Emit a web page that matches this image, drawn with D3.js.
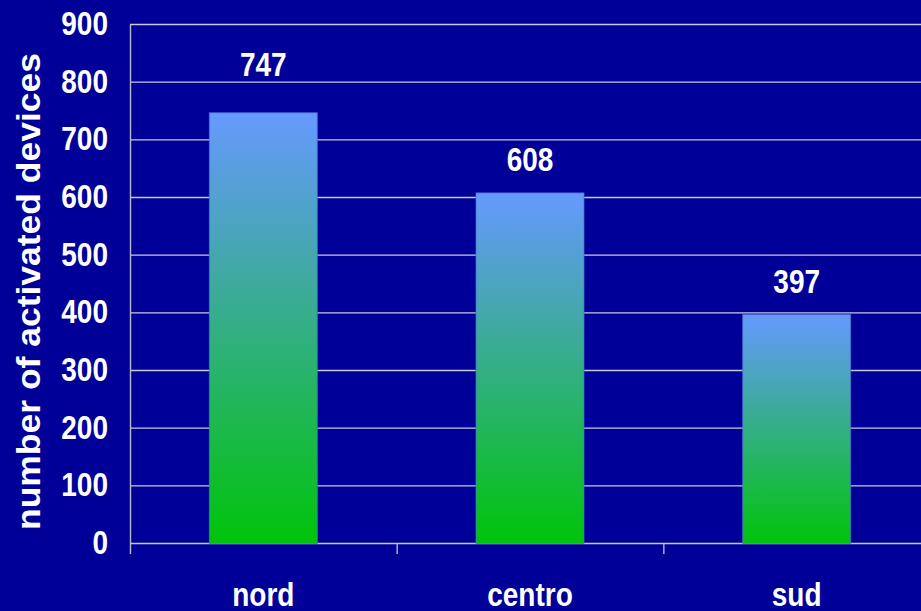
<!DOCTYPE html>
<html><head><meta charset="utf-8">
<script src="https://cdn.jsdelivr.net/npm/d3@7"></script>
<style>html,body{margin:0;padding:0;background:#000099;overflow:hidden}svg{display:block}</style>
</head><body>
<script>
const categories = ["nord", "centro", "sud"];
const values = [747, 608, 397];
const yTicks = [0, 100, 200, 300, 400, 500, 600, 700, 800, 900];
const yTitle = "number of activated devices";

const W = 921, H = 611;
const svg = d3.select("body").append("svg").attr("width", W).attr("height", H);
svg.append("rect").attr("width", W).attr("height", H).attr("fill", "#000099");

const x = d3.scaleBand().domain(categories).range([130, 930]).paddingInner(0).paddingOuter(0);
const y = d3.scaleLinear().domain([0, 900]).range([543.5, 24.5]);

const defs = svg.append("defs");
const grad = defs.append("linearGradient").attr("id", "barGrad")
  .attr("x1", 0).attr("y1", 0).attr("x2", 0).attr("y2", 1);
grad.append("stop").attr("offset", "0%").attr("stop-color", "#6699ff");
grad.append("stop").attr("offset", "100%").attr("stop-color", "#00c40a");

const font = "'Liberation Sans', Arial, sans-serif";
const SY = 1.17;

// gridlines
svg.append("g").selectAll("line").data(yTicks).join("line")
  .attr("x1", 130).attr("x2", W)
  .attr("y1", d => y(d)).attr("y2", d => y(d))
  .attr("stroke", "#c8c8d8").attr("stroke-width", 1.4);

// y axis line
svg.append("line").attr("x1", 130.5).attr("x2", 130.5).attr("y1", y(900)).attr("y2", 554)
  .attr("stroke", "#b8b8d0").attr("stroke-width", 1.4);

// x ticks at band boundaries
const bounds = categories.map(c => x(c)).slice(1);
svg.append("g").selectAll("line").data(bounds).join("line")
  .attr("x1", d => d + 0.5).attr("x2", d => d + 0.5).attr("y1", y(0)).attr("y2", 554)
  .attr("stroke", "#b8b8d0").attr("stroke-width", 1.4);

// bars
const bw = x.bandwidth() * 0.405;
svg.append("g").selectAll("rect").data(values).join("rect")
  .attr("x", (d, i) => x(categories[i]) + x.bandwidth() / 2 - bw / 2)
  .attr("y", d => y(d))
  .attr("width", bw)
  .attr("height", d => y(0) - y(d))
  .attr("fill", "url(#barGrad)")
  .attr("stroke", "#4a70d0").attr("stroke-width", 1).attr("stroke-opacity", 0.7);

function stretchedText(g, tx, ty, txt, anchor, size) {
  return g.append("text")
    .attr("transform", `translate(${tx},${ty}) scale(1,${SY})`)
    .attr("text-anchor", anchor)
    .attr("font-family", font).attr("font-weight", "bold")
    .attr("font-size", size).attr("fill", "#ffffff")
    .text(txt);
}

// y tick labels
const gy = svg.append("g");
yTicks.forEach(t => stretchedText(gy, 108, y(t) + 10.5, t, "end", 28));

// x labels
const gx = svg.append("g");
categories.forEach(c => stretchedText(gx, x(c) + x.bandwidth() / 2, 606, c, "middle", 28));

// value labels: placed above bar, moved above a gridline if they would cross it
const gv = svg.append("g");
values.forEach((v, i) => {
  let base = y(v) - 22;
  const top = base - 24;
  yTicks.forEach(t => { const gyv = y(t); if (gyv > top && gyv < base + 2) base = gyv - 6; });
  stretchedText(gv, x(categories[i]) + x.bandwidth() / 2, base, v, "middle", 28);
});

// y title
svg.append("text")
  .attr("transform", `translate(40,291.5) rotate(-90)`)
  .attr("text-anchor", "middle")
  .attr("font-family", font).attr("font-weight", "bold")
  .attr("font-size", 34).attr("fill", "#ffffff")
  .attr("textLength", 477).attr("lengthAdjust", "spacingAndGlyphs")
  .text(yTitle);
</script>
</body></html>
